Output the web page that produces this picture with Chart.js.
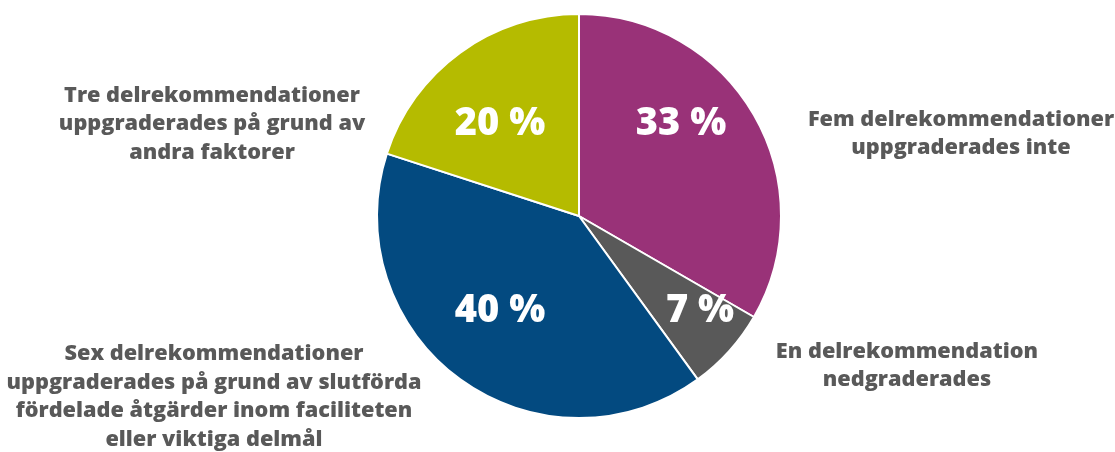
<!DOCTYPE html>
<html>
<head>
<meta charset="utf-8">
<script src="https://cdn.jsdelivr.net/npm/chart.js@4"></script>
<style>
  html, body { margin: 0; padding: 0; background: #fff; }
  #wrap { width: 1115px; height: 452px; }
</style>
</head>
<body>
<div id="wrap"><canvas id="pieChart"></canvas></div>
<script>
// data: number of sub-recommendations per outcome (of 15)
const counts = [5, 1, 6, 3];
const percentLabels = ["33 %", "7 %", "40 %", "20 %"];
const categories = [
  ["Fem delrekommendationer", "uppgraderades inte"],
  ["En delrekommendation", "nedgraderades"],
  ["Sex delrekommendationer", "uppgraderades på grund av slutförda", "fördelade åtgärder inom faciliteten", "eller viktiga delmål"],
  ["Tre delrekommendationer", "uppgraderades på grund av", "andra faktorer"]
];
const colors = ["#993278", "#595959", "#034a80", "#b5bb00"];

// where the text goes, relative to pie centre
const pctOffsets = [[102, -92], [121, 95], [-79, 95], [-79, -92]];
const labelOffsets = [[382, -82], [328, 150], [-365, 181], [-367, -92]];

const pieCanvas = document.getElementById("pieChart");

const textPlugin = {
  id: "pieText",
  afterDraw(chart) {
    const ctx = chart.ctx;
    const arc = chart.getDatasetMeta(0).data[0];
    const cx = arc.x, cy = arc.y;
    ctx.save();
    ctx.textAlign = "center";
    ctx.textBaseline = "middle";
    // percentages inside slices
    ctx.fillStyle = "#ffffff";
    ctx.font = "800 38px 'Open Sans'";
    percentLabels.forEach(function(t, i) {
      ctx.fillText(t, cx + pctOffsets[i][0], cy + pctOffsets[i][1]);
    });
    // category texts outside
    ctx.fillStyle = "#595959";
    ctx.font = "800 21.7px 'Open Sans'";
    categories.forEach(function(lines, i) {
      const n = lines.length;
      lines.forEach(function(line, j) {
        const y = cy + labelOffsets[i][1] + (j - (n - 1) / 2) * 28.5;
        ctx.fillText(line, cx + labelOffsets[i][0], y);
      });
    });
    ctx.restore();
  }
};

new Chart(pieCanvas, {
  type: "pie",
  data: {
    labels: categories.map(function(c) { return c.join(" "); }),
    datasets: [{
      data: counts,
      backgroundColor: colors,
      borderColor: "#ffffff",
      borderWidth: 2
    }]
  },
  options: {
    responsive: true,
    maintainAspectRatio: false,
    animation: false,
    layout: { padding: { top: 13, bottom: 33, left: 100, right: 57 } },
    plugins: {
      legend: { display: false },
      tooltip: { enabled: false }
    }
  },
  plugins: [textPlugin]
});
</script>
</body>
</html>
